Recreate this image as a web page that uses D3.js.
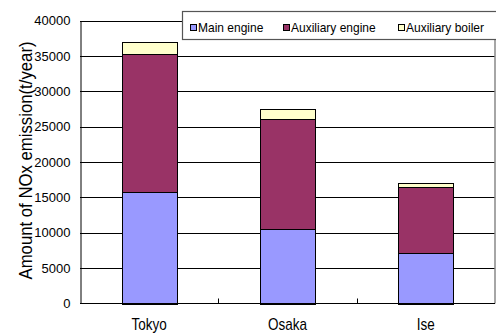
<!DOCTYPE html>
<html>
<head>
<meta charset="utf-8">
<script src="https://cdn.jsdelivr.net/npm/d3@7"></script>
<style>
  html, body { margin: 0; padding: 0; background: #fff; }
  svg { display: block; font-family: "Liberation Sans", Arial, sans-serif; }
</style>
</head>
<body>
<svg id="chart" width="496" height="333"></svg>
<script>
// NOx emission by source, per bay area (t/year)
const categories = ["Tokyo", "Osaka", "Ise"];
const mainEngine = [15700, 10500, 7100];
const auxiliaryEngine = [19600, 15600, 9350];
const auxiliaryBoiler = [1700, 1400, 550];
const seriesNames = ["Main engine", "Auxiliary engine", "Auxiliary boiler"];
const seriesColors = ["#9999FF", "#993366", "#FFFFCC"];
const yTicks = [0, 5000, 10000, 15000, 20000, 25000, 30000, 35000, 40000];
const yTitle = "Amount of NOx emission(t/year)";

const svg = d3.select("#chart");
const plot = { left: 80, right: 495, top: 20.5, bottom: 303.5 };

const rows = categories.map((c, i) => ({
  cat: c,
  "Main engine": mainEngine[i],
  "Auxiliary engine": auxiliaryEngine[i],
  "Auxiliary boiler": auxiliaryBoiler[i]
}));
const stacked = d3.stack().keys(seriesNames)(rows);

const x = d3.scaleBand().domain(categories).range([plot.left, plot.right]).paddingInner(0.6).paddingOuter(0.3);
const y = d3.scaleLinear().domain([0, 40000]).range([plot.bottom, plot.top]);
const color = d3.scaleOrdinal().domain(seriesNames).range(seriesColors);

// horizontal gridlines
svg.append("g")
  .selectAll("line").data(yTicks.filter(t => t > 0)).join("line")
  .attr("x1", plot.left).attr("x2", plot.right)
  .attr("y1", d => Math.round(y(d)) + 0.5).attr("y2", d => Math.round(y(d)) + 0.5)
  .attr("stroke", "#000").attr("stroke-width", 1);

// right border of plot area
svg.append("line")
  .attr("x1", plot.right).attr("x2", plot.right)
  .attr("y1", y(40000)).attr("y2", plot.bottom)
  .attr("stroke", "#888").attr("stroke-width", 1.5);

// stacked bars
svg.append("g")
  .selectAll("g").data(stacked).join("g")
  .attr("fill", d => color(d.key))
  .selectAll("rect").data(d => d).join("rect")
  .attr("x", d => Math.round(x(d.data.cat)) + 0.5)
  .attr("width", Math.round(x.bandwidth()))
  .attr("y", d => Math.round(y(d[1])) + 0.5)
  .attr("height", d => Math.round(y(d[0])) - Math.round(y(d[1])))
  .attr("stroke", "#000").attr("stroke-width", 1);

// y axis
const yAxis = d3.axisLeft(y).tickValues(yTicks).tickSize(0).tickPadding(10).tickFormat(d3.format("d"));
const gy = svg.append("g").attr("transform", `translate(${plot.left + 0.5},0)`).call(yAxis);
gy.select(".domain").attr("stroke", "#000");
gy.selectAll("text").attr("font-size", 13).attr("fill", "#000")
  .attr("font-family", "'Liberation Sans', Arial, sans-serif");

// x axis: tick marks between categories, pointing inward
const step = x.step();
const dividers = categories.slice(1).map(c => x(c) - x.paddingInner() * step / 2);
const gx = svg.append("g");
gx.append("line")
  .attr("x1", plot.left).attr("x2", plot.right)
  .attr("y1", plot.bottom).attr("y2", plot.bottom)
  .attr("stroke", "#000");
gx.selectAll("line.div").data(dividers).join("line").attr("class", "div")
  .attr("x1", d => Math.round(d) + 0.5).attr("x2", d => Math.round(d) + 0.5)
  .attr("y1", plot.bottom).attr("y2", plot.bottom - 5)
  .attr("stroke", "#000");
gx.selectAll("text").data(categories).join("text")
  .attr("text-anchor", "middle")
  .attr("font-size", 13.5)
  .attr("fill", "#000")
  .attr("transform", d => `translate(${x(d) + x.bandwidth() / 2},329.5) scale(1,1.18)`)
  .text(d => d);

// y axis title
svg.append("text")
  .attr("transform", "translate(31.5,160.5) rotate(-90) scale(1.08,1.2)")
  .attr("text-anchor", "middle")
  .attr("font-size", 15.5)
  .attr("fill", "#000")
  .text(yTitle);

// legend
const legend = svg.append("g");
legend.append("rect")
  .attr("x", 182.5).attr("y", 11.5).attr("width", 320).attr("height", 28)
  .attr("fill", "#fff").attr("stroke", "#555").attr("stroke-width", 1.2);
const legendX = [190, 283, 398];
const items = legend.selectAll("g.item").data(seriesNames).join("g").attr("class", "item")
  .attr("transform", (d, i) => `translate(${legendX[i]},0)`);
items.append("rect")
  .attr("x", 0.5).attr("y", 24.5).attr("width", 6).attr("height", 6)
  .attr("fill", d => color(d)).attr("stroke", "#000");
items.append("text")
  .attr("transform", "translate(8,31.5) scale(1,1.12)")
  .attr("font-size", 12).attr("fill", "#000")
  .text(d => d);
</script>
</body>
</html>
